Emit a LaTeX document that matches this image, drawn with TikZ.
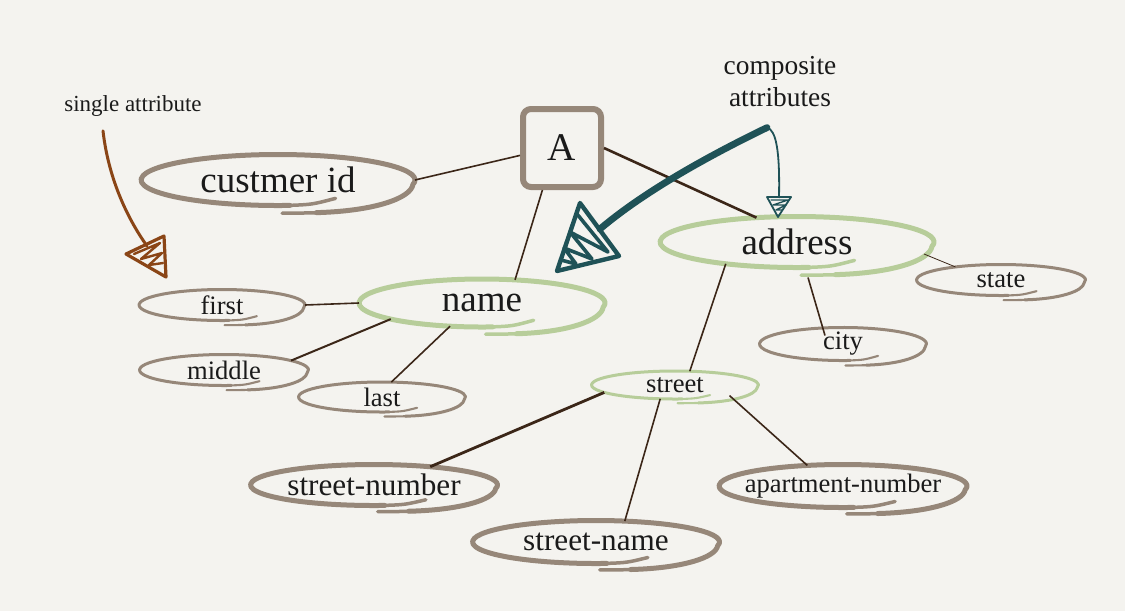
\documentclass[tikz,border=0pt]{standalone}
\usepackage{fontspec}
\setmainfont{Liberation Serif}
\usetikzlibrary{shapes.geometric, calc}
\definecolor{paper}{HTML}{F4F3EF}
\definecolor{taupe}{HTML}{968779}
\definecolor{sage}{HTML}{B7CD9A}
\definecolor{lineb}{HTML}{3B2618}
\definecolor{rust}{HTML}{8A4516}
\definecolor{teal}{HTML}{1F5257}
\definecolor{ink}{HTML}{1A1A1A}

\begin{document}
\begin{tikzpicture}[x=0.5pt, y=-0.5pt,
  every node/.style={text=ink},
  attr/.style={ellipse, inner sep=0pt, outer sep=0pt,
               font=\fontsize{13.3}{15}\selectfont,
               execute at begin node={\hbox to 0pt\bgroup\hss},
               execute at end node={\hss\egroup}},
  bigattr/.style={attr, font=\fontsize{18.5}{21}\selectfont},
  midattr/.style={attr, font=\fontsize{15.6}{18}\selectfont},
  ent/.style={rectangle, rounded corners=4pt, draw=taupe, line width=3pt, fill=paper,
              minimum size=39pt, inner sep=0pt, font=\fontsize{19.6}{22}\selectfont},
  note/.style={align=center, inner sep=1pt},
  link/.style={draw=lineb, line width=0.8pt},
  headline/.style={line join=round, line cap=round}
]
  % ---- paper ----
  \fill[paper] (0,0) rectangle (1125,611);

  % ---- entity and attributes ----
  \node[ent] (A) at (562,148) {A};
  \node[bigattr, minimum width=137pt, minimum height=25.5pt] (cid) at (278,180) {custmer id};
  \node[bigattr, minimum width=123pt, minimum height=24pt] (name) at (482,303) {name};
  \node[bigattr, minimum width=137pt, minimum height=25.5pt] (address) at (797,242) {address};

  \node[attr, minimum width=83pt, minimum height=15.5pt]   (first)  at (222,305) {first};
  \node[attr, minimum width=84.5pt, minimum height=15.5pt] (middle) at (224,370) {middle};
  \node[attr, minimum width=83.5pt, minimum height=15pt]   (last)   at (382,397) {last};
  \node[attr, minimum width=84.5pt, minimum height=15.5pt] (state)  at (1001,280) {state};
  \node[attr, minimum width=83.5pt, minimum height=16pt]   (city)   at (843,344) {city};
  \node[attr, minimum width=83.5pt, minimum height=14pt]   (street) at (675,385) {street};

  \node[midattr, minimum width=123.5pt, minimum height=20.5pt] (snum)  at (374,485) {street-number};
  \node[midattr, minimum width=123.5pt, minimum height=21.5pt] (sname) at (596,542) {street-name};
  \node[midattr, font=\fontsize{13.3}{15}\selectfont,
        minimum width=124pt, minimum height=21.5pt] (apt) at (843,486) {apartment-number};

  % ---- hand-drawn outline of each ellipse (tail + loop + tapered ends) ----
  \foreach \nd/\col/\lw in {cid/taupe/2.5pt, name/sage/2.5pt, address/sage/2.5pt,
      first/taupe/1.5pt, middle/taupe/1.5pt, last/taupe/1.5pt, state/taupe/1.5pt,
      city/taupe/1.5pt, street/sage/1.5pt, snum/taupe/2.5pt, sname/taupe/2.5pt, apt/taupe/2.5pt}
  {
    \draw[\col, line width=\lw, line cap=round, line join=round]
      let \p1=(\nd.center), \p2=(\nd.east), \p3=(\nd.north),
          \n1={\x2-\x1}, \n2={\y3-\y1} in
      ({\x1+0.28*\n1},{\y1-1.28*\n2}) .. controls ({\x1+0.7*\n1},{\y1-1.22*\n2})
        and ({\x1+0.97*\n1},{\y1-0.72*\n2}) .. ({\x1+0.985*\n1},{\y1-0.174*\n2})
      arc[start angle=-10, end angle=275, x radius=\n1, y radius=\n2];
    \draw[\col, line width={0.7*\lw}, line cap=round]
      let \p1=(\nd.center), \p2=(\nd.east), \p3=(\nd.north),
          \n1={\x2-\x1}, \n2={\y3-\y1} in
      ({\x1+0.03*\n1},{\y1-1.3*\n2}) .. controls ({\x1+0.15*\n1},{\y1-1.3*\n2}) .. ({\x1+0.3*\n1},{\y1-1.28*\n2})
      ({\x1+0.08*\n1},{\y1-0.996*\n2}) .. controls ({\x1+0.25*\n1},{\y1-0.96*\n2}) .. ({\x1+0.42*\n1},{\y1-0.72*\n2});
  }

  % ---- connectors ----
  \draw[link] (cid.east) -- (A.190);
  \draw[link, line width=1.3pt] (A.east) -- (address.149);
  \draw[link] (A.245) -- (name.35);
  \draw[link] (first.east) -- (name.west);
  \draw[link, line width=1pt] (middle.8) -- (name.190);
  \draw[link] (last.58) -- (name.216);
  \draw[link] (address.197) -- (street.43);
  \draw[link] ([xshift=5.5pt,yshift=-5pt]address.south) -- ([xshift=-9pt,yshift=-4pt]city.north);
  \draw[link, line width=0.4pt] ([xshift=-5pt,yshift=-6pt]address.east) -- (state.164);
  \draw[link, line width=1.4pt] (street.186) -- (snum.18);
  \draw[link] (street.223) -- (sname.36);
  \draw[link] (street.349) -- (apt.150);

  % ---- notes ----
  \node[note, font=\fontsize{11.5}{13}\selectfont] (single) at (133,106) {single attribute};
  \node[note, font=\fontsize{13.7}{16}\selectfont] (compnote) at (780,82) {composite\\attributes};

  % ---- brown arrow ----
  \coordinate (brback) at (147,246);
  \draw[rust, line width=1.5pt, line cap=round]
    ([xshift=-15pt,yshift=-6pt]single.south) .. controls (108,175) and (125,215) .. (brback);
  \draw[rust, headline, line width=1.6pt] (166,277) -- (126,254) -- (164,236) -- cycle;
  \draw[rust, headline, line width=1.2pt]
    (134,254) -- (160,243) -- (141,259) -- (162,253) -- (149,265) -- (163,263);

  % ---- teal arrows ----
  \coordinate (tlback) at (600,229);
  \coordinate (tsback) at (779,198);
  \draw[teal, line width=3.4pt, line cap=round]
    ([xshift=-6.5pt,yshift=-9pt]compnote.south) .. controls (700,160) and (640,195) .. (tlback);
  \draw[teal, headline, line width=2.2pt] (557,271) -- (580,203) -- (619,256) -- cycle;
  \draw[teal, headline, line width=1.8pt]
    (577,214) -- (608,252) -- (570,232) -- (592,259) -- (564,248) -- (576,264) -- (561,260);
  \draw[teal, line width=0.9pt]
    ([xshift=-6.5pt,yshift=-9pt]compnote.south) .. controls (776,130) and (780,150) .. (tsback);
  \draw[teal, headline, line width=0.9pt] (778,217) -- (767,197) -- (791,197) -- cycle;
  \draw[teal, headline, line width=0.7pt]
    (771,200) -- (788,200) -- (773,205) -- (786,205) -- (776,210) -- (782,210);
\end{tikzpicture}
\end{document}
